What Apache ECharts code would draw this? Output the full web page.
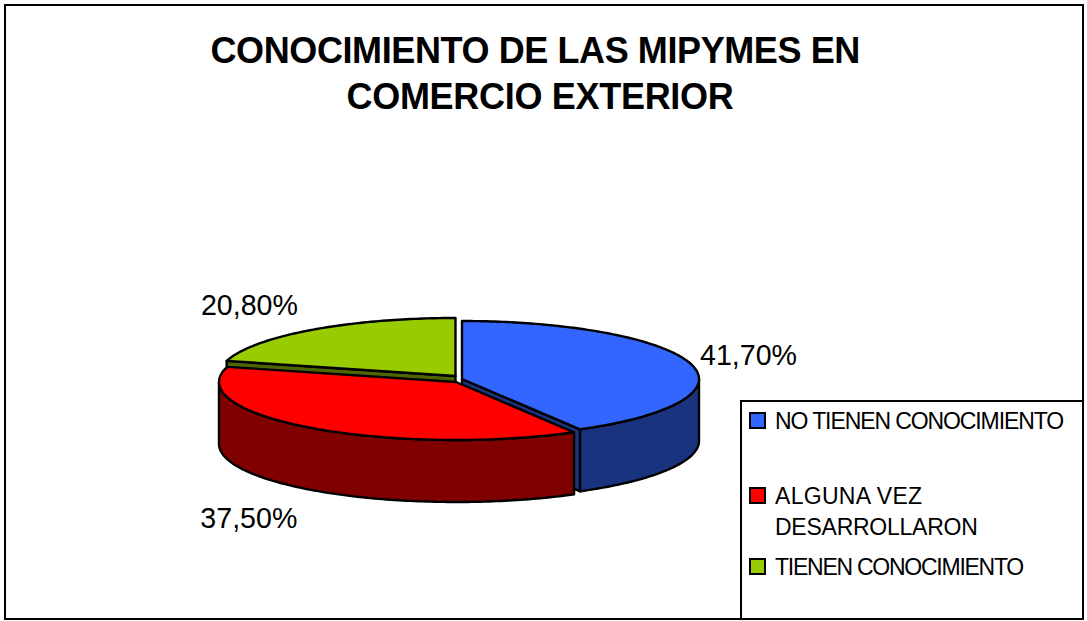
<!DOCTYPE html>
<html>
<head>
<meta charset="utf-8">
<title>Conocimiento de las MIPYMES</title>
<style>
  html, body { margin: 0; padding: 0; background: #fff; }
  #chart { width: 1087px; height: 621px; }
</style>
</head>
<body>
<div id="chart"></div>
<script src="https://cdn.jsdelivr.net/npm/echarts@6/dist/echarts.min.js"></script>
<script>
const categories = ['NO TIENEN CONOCIMIENTO', 'ALGUNA VEZ DESARROLLARON', 'TIENEN CONOCIMIENTO'];
const values = [41.7, 37.5, 20.8];
const topColors = ['#3366FF', '#FF0000', '#99CC00'];
const sideColors = ['#1A337F', '#800000', '#4D6600'];

// geometria de la torta en perspectiva
const RX = 237;
const RY = 58;
const DEPTH = 62;
const CENTER = [458.5, 379];
const EXPLODE = [[3.5, 0], [-2.5, 3], [-3, -3]]; // separacion de cada porcion
const LABEL_OFFSET = [[61, -9], [-65, 93], [-65, -28]];
const total = values.reduce((a, b) => a + b, 0);

// el texto original viene mas apretado que la fuente instalada
const LETTER_SPACING = {
  'CONOCIMIENTO DE LAS MIPYMES EN': -0.4,
  'COMERCIO EXTERIOR': -0.3,
  'NO TIENEN CONOCIMIENTO': -1.1,
  'ALGUNA VEZ': 0.3,
  'DESARROLLARON': -0.25,
  'TIENEN CONOCIMIENTO': -1.25
};

const toRad = (deg) => deg * Math.PI / 180;

const rimPoint = (cx, cy, deg) => [
  cx + RX * Math.sin(toRad(deg)),
  cy - RY * Math.cos(toRad(deg))
];

const arcPoints = (cx, cy, from, to) => {
  const pts = [];
  for (let a = from; a < to; a += 1) pts.push(rimPoint(cx, cy, a));
  pts.push(rimPoint(cx, cy, to));
  return pts;
};

const lineStyle = (fill) => ({ fill, stroke: '#000', lineWidth: 2.4, lineJoin: 'round' });

const polygon = (points, fill) => ({ type: 'polygon', shape: { points }, style: lineStyle(fill) });

const renderSlice = (index) => (params, api) => {
  const value = api.value(0);
  const before = values.slice(0, index).reduce((a, b) => a + b, 0);
  const start = before / total * 360;
  const end = start + value / total * 360;
  const cx = CENTER[0] + EXPLODE[index][0];
  const cy = CENTER[1] + EXPLODE[index][1];
  const children = [];

  // caras del corte, solo las que miran al frente
  [[start, -90], [end, 90]].forEach(([deg, turn]) => {
    if (-Math.cos(toRad(deg + turn)) > 0.01) {
      const p = rimPoint(cx, cy, deg);
      children.push(polygon([
        [cx, cy], p, [p[0], p[1] + DEPTH], [cx, cy + DEPTH]
      ], sideColors[index]));
    }
  });

  // pared exterior visible (entre 90 y 270 grados)
  const wallFrom = Math.max(start, 90);
  const wallTo = Math.min(end, 270);
  if (wallTo > wallFrom) {
    const upper = arcPoints(cx, cy, wallFrom, wallTo);
    const lower = arcPoints(cx, cy + DEPTH, wallFrom, wallTo).reverse();
    children.push(polygon(upper.concat(lower), sideColors[index]));
  }

  // cara superior
  children.push(polygon([[cx, cy]].concat(arcPoints(cx, cy, start, end)), topColors[index]));

  // etiqueta de porcentaje
  const mid = rimPoint(CENTER[0], CENTER[1], (start + end) / 2);
  children.push({
    type: 'text',
    x: mid[0] + LABEL_OFFSET[index][0],
    y: mid[1] + LABEL_OFFSET[index][1],
    style: {
      text: value.toFixed(2).replace('.', ',') + '%',
      fontFamily: 'Liberation Sans',
      fontSize: 28.6,
      fill: '#000',
      align: 'center',
      verticalAlign: 'middle'
    }
  });

  return { type: 'group', children };
};

const chart = echarts.init(document.getElementById('chart'), null, { renderer: 'svg' });

const option = {
  animation: false,
  backgroundColor: '#fff',
  title: {
    text: 'CONOCIMIENTO DE LAS MIPYMES EN \nCOMERCIO EXTERIOR',
    left: 535,
    top: 22,
    textAlign: 'center',
    textStyle: {
      fontFamily: 'Liberation Sans',
      fontSize: 36,
      fontWeight: 'bold',
      lineHeight: 46,
      color: '#000'
    }
  },
  legend: {
    orient: 'vertical',
    left: 749,
    top: 403,
    padding: 0,
    itemGap: 11,
    itemWidth: 15,
    itemHeight: 15,
    selectedMode: false,
    itemStyle: { borderColor: '#000', borderWidth: 2 },
    textStyle: { fontFamily: 'Liberation Sans', fontSize: 23, color: '#000', lineHeight: 31, padding: [0, 0, 0, 5] },
    formatter: (name) => name === categories[1] ? '\nALGUNA VEZ\nDESARROLLARON' : name,
    data: [
      { name: categories[0], icon: 'rect', textStyle: { lineHeight: 35 } },
      { name: categories[1], icon: 'rect' },
      { name: categories[2], icon: 'rect', textStyle: { lineHeight: 27 } }
    ]
  },
  graphic: [{
    type: 'rect',
    z: -2,
    shape: { x: 5, y: 5, width: 1078, height: 614 },
    style: { fill: '#fff', stroke: '#000', lineWidth: 2 }
  }, {
    type: 'rect', // caja de la leyenda
    z: -1,
    shape: { x: 741, y: 401, width: 342, height: 218 },
    style: { fill: '#fff', stroke: '#000', lineWidth: 2 }
  }],
  series: categories.map((name, i) => ({
    type: 'custom',
    name,
    coordinateSystem: 'none',
    z: [2, 3, 1][i], // orden de dibujo: verde, azul, rojo
    itemStyle: { color: topColors[i] },
    renderItem: renderSlice(i),
    data: [[values[i]]]
  }))
};

chart.setOption(option);

// ajusta el espaciado de letras sobre los textos ya dibujados
document.querySelectorAll('#chart svg text').forEach((el) => {
  const spacing = LETTER_SPACING[el.textContent.trim()];
  if (spacing !== undefined) el.style.letterSpacing = spacing + 'px';
});
</script>
</body>
</html>
